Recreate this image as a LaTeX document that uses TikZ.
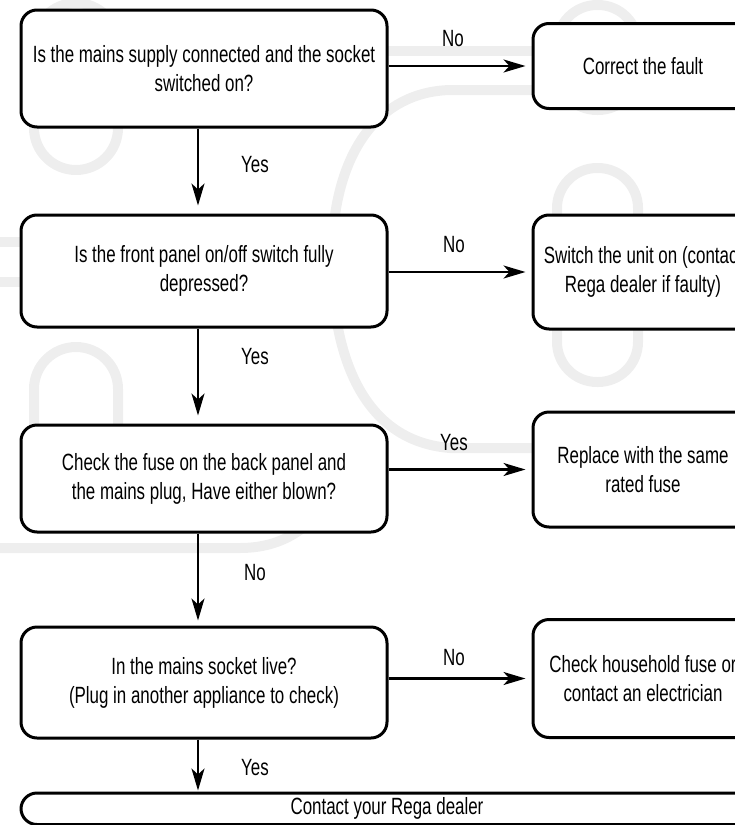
\documentclass[tikz,border=0pt]{standalone}
\usepackage{fontspec}
\setmainfont[FakeStretch=0.72]{Liberation Sans}
\usetikzlibrary{arrows.meta}
\definecolor{wm}{RGB}{238,238,238}
\begin{document}
\begin{tikzpicture}[x=1pt,y=-1pt,
  font=\fontsize{23.5}{29}\selectfont,
  box/.style={draw, line width=3pt, rounded corners=16pt, fill=white, align=center, inner sep=0pt},
  wmline/.style={draw=wm, line width=10pt},
  arr/.style={line width=2.5pt, -{Stealth[length=22pt,width=13pt,inset=6pt]}},
  lbl/.style={inner sep=0pt}]
\useasboundingbox (0,0) rectangle (735,825);
\clip (0,0) rectangle (735,825);
% watermark
\draw[wmline, rounded corners=42pt] (34,3) rectangle (118,170);
\draw[wmline, rounded corners=40pt] (557,5) rectangle (638,110);
\draw[wmline, rounded corners=40pt] (557,168) rectangle (638,382);
\draw[wmline, rounded corners=42pt] (34,347) rectangle (118,500);
\draw[wmline] (-10,242) -- (40,242);
\draw[wmline] (-10,282) -- (40,282);
\draw[wmline] (380,51) -- (540,51);
\draw[wmline] (540,90) -- (450,90) .. controls (380,92) and (335,150) .. (332,250)
  .. controls (330,330) and (350,440) .. (450,448) -- (540,448);
\draw[wmline] (-10,548) -- (240,548) .. controls (290,548) and (320,520) .. (340,480);
% boxes
\node[box, minimum width=366pt, minimum height=117pt] (B1) at (204,68.5)
  {Is the mains supply connected and the socket\\switched on?};
\node[box, minimum width=366pt, minimum height=112pt] (B2) at (204,271)
  {Is the front panel on/off switch fully\\depressed?};
\node[box, minimum width=366pt, minimum height=107pt] (B3) at (204,478.5)
  {Check the fuse on the back panel and\\the mains plug, Have either blown?};
\node[box, minimum width=366pt, minimum height=111pt] (B4) at (204,682.5)
  {In the mains socket live?\\(Plug in another appliance to check)};
\node[box, minimum width=220pt, minimum height=85pt] (R1) at (643,66)
  {Correct the fault};
\node[box, minimum width=220pt, minimum height=114pt] (R2) at (643,272)
  {Switch the unit on (contact\\Rega dealer if faulty)};
\node[box, minimum width=220pt, minimum height=115pt] (R3) at (643,469.5)
  {Replace with the same\\rated fuse};
\node[box, minimum width=220pt, minimum height=118pt] (R4) at (643,678.5)
  {Check household fuse or\\contact an electrician};
\node[box, minimum width=732pt, minimum height=31.5pt] (F) at (387,808.75)
  {Contact your Rega dealer};
% connectors
\coordinate (ax) at (198,0);
\draw[arr, shorten >=8pt] (B1.south -| ax) -- (B2.north -| ax);
\draw[arr, shorten >=8pt] (B2.south -| ax) -- (B3.north -| ax);
\draw[arr, shorten >=5pt] (B3.south -| ax) -- (B4.north -| ax);
\draw[arr, shorten >=1pt] (B4.south -| ax) -- (F.north -| ax);
\draw[arr, shorten >=6pt] (R1.west -| B1.east) -- (R1.west);
\draw[arr, shorten >=6pt] (R2.west -| B2.east) -- (R2.west);
\draw[arr, shorten >=6pt] (R3.west -| B3.east) -- (R3.west);
\draw[arr, shorten >=6pt] (R4.west -| B4.east) -- (R4.west);
% labels
\node[lbl] (l1) at (453,38.5) {No};
\node[lbl] (l2) at (454,245) {No};
\node[lbl] (l3) at (454,443) {Yes};
\node[lbl] (l4) at (454,658) {No};
\node[lbl] (v1) at (255,165) {Yes};
\node[lbl] (v2) at (255,357) {Yes};
\node[lbl] (v3) at (255,573) {No};
\node[lbl] (v4) at (255,768) {Yes};
\end{tikzpicture}
\end{document}
